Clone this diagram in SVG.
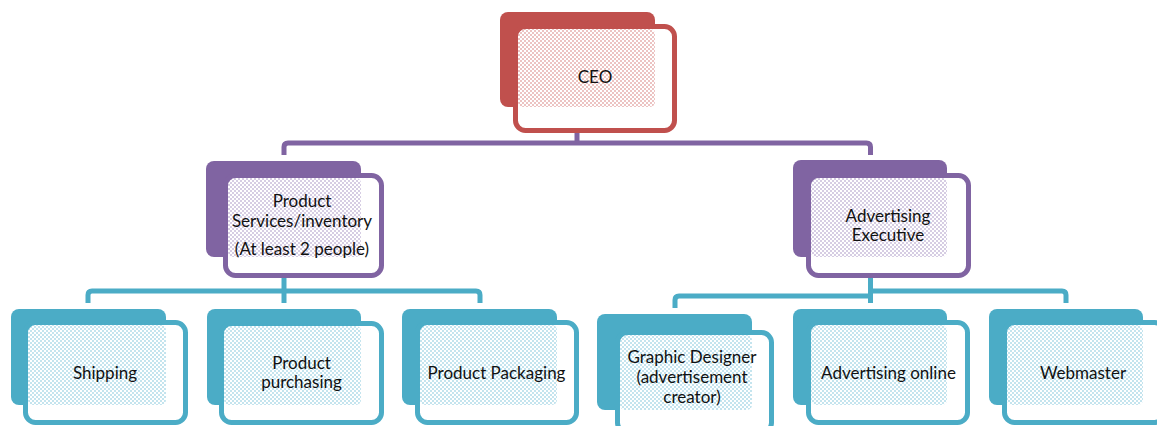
<svg xmlns="http://www.w3.org/2000/svg" width="1157" height="426" viewBox="0 0 1157 426">
  <defs>
    <!-- fine dotted fills for the overlap area of each card -->
    <pattern id="dotRed" width="4" height="4" patternUnits="userSpaceOnUse">
      <rect width="4" height="4" fill="#ffffff"/>
      <rect x="0" y="0" width="2" height="2" fill="#ecc3c2"/>
      <rect x="2" y="2" width="2" height="2" fill="#ecc3c2"/>
    </pattern>
    <pattern id="dotPurple" width="4" height="4" patternUnits="userSpaceOnUse">
      <rect width="4" height="4" fill="#ffffff"/>
      <rect x="0" y="0" width="2" height="2" fill="#d6cde3"/>
      <rect x="2" y="2" width="2" height="2" fill="#d6cde3"/>
    </pattern>
    <pattern id="dotBlue" width="4" height="4" patternUnits="userSpaceOnUse">
      <rect width="4" height="4" fill="#ffffff"/>
      <rect x="0" y="0" width="2" height="2" fill="#c4e4ee"/>
      <rect x="2" y="2" width="2" height="2" fill="#c4e4ee"/>
    </pattern>
  </defs>
  <style>
    .back { stroke: none; }
    .front { fill: none; stroke-width: 5; }
    .red .back { fill: #c0504d; }
    .red .front { stroke: #c0504d; }
    .red .dots { fill: url(#dotRed); }
    .purple .back { fill: #8064a2; }
    .purple .front { stroke: #8064a2; }
    .purple .dots { fill: url(#dotPurple); }
    .blue .back { fill: #4bacc6; }
    .blue .front { stroke: #4bacc6; }
    .blue .dots { fill: url(#dotBlue); }
    .plate { fill: #ffffff; }
    .link { fill: none; stroke-width: 5; stroke-linejoin: round; }
    .link.purple { stroke: #8064a2; }
    .link.blue { stroke: #4bacc6; }
    text { font-family: Lato, "Liberation Sans", sans-serif; font-size: 17px; fill: #111111; text-anchor: middle; }
  </style>

  <rect width="1157" height="426" fill="#ffffff"/>

  <!-- connectors -->
  <g id="connectors">
    <path class="link purple" d="M577,133 V143"/>
    <path class="link purple" d="M284,155 V147 Q284,143 288,143 H866.5 Q870.5,143 870.5,147 V155"/>
    <path class="link blue" d="M284,278 V303"/>
    <path class="link blue" d="M88,303 V295 Q88,291 92,291 H476 Q480,291 480,295 V303"/>
    <path class="link blue" d="M870.5,278 V303"/>
    <path class="link blue" d="M675,308 V300 Q675,296 679,296 H870.5"/>
    <path class="link blue" d="M870.5,291 H1062 Q1066,291 1066,295 V303"/>
  </g>

  <!-- CEO -->
  <g id="ceo" class="red">
    <rect class="back" x="500" y="12" width="155" height="95" rx="8"/>
    <rect class="plate" x="515.5" y="26.5" width="159" height="104" rx="10"/>
    <rect class="dots" x="518" y="29" width="137" height="78" rx="5"/>
    <rect class="front" x="515.5" y="26.5" width="159" height="104" rx="10"/>
    <text x="595" y="83">CEO</text>
  </g>

  <!-- Product Services / inventory -->
  <g id="product-services" class="purple">
    <rect class="back" x="206" y="161" width="155" height="96" rx="8"/>
    <rect class="plate" x="225.5" y="175.5" width="156" height="100" rx="10"/>
    <rect class="dots" x="228" y="178" width="133" height="79" rx="5"/>
    <rect class="front" x="225.5" y="175.5" width="156" height="100" rx="10"/>
    <text x="302" y="207">Product</text>
    <text x="302" y="226.5">Services/inventory</text>
    <text x="302" y="255">(At least 2 people)</text>
  </g>

  <!-- Advertising Executive -->
  <g id="advertising-executive" class="purple">
    <rect class="back" x="793" y="160" width="154" height="97" rx="8"/>
    <rect class="plate" x="808.5" y="175.5" width="160" height="100" rx="10"/>
    <rect class="dots" x="811" y="178" width="136" height="79" rx="5"/>
    <rect class="front" x="808.5" y="175.5" width="160" height="100" rx="10"/>
    <text x="888" y="221.5">Advertising</text>
    <text x="888" y="240.5">Executive</text>
  </g>

  <!-- Shipping -->
  <g id="shipping" class="blue">
    <rect class="back" x="11" y="309" width="155" height="96" rx="8"/>
    <rect class="plate" x="25.5" y="322.5" width="160" height="100" rx="10"/>
    <rect class="dots" x="28" y="325" width="138" height="80" rx="5"/>
    <rect class="front" x="25.5" y="322.5" width="160" height="100" rx="10"/>
    <text x="105" y="379.3">Shipping</text>
  </g>

  <!-- Product purchasing -->
  <g id="product-purchasing" class="blue">
    <rect class="back" x="207" y="309" width="154" height="96" rx="8"/>
    <rect class="plate" x="221.5" y="323.5" width="160" height="99" rx="10"/>
    <rect class="dots" x="224" y="326" width="137" height="79" rx="5"/>
    <rect class="front" x="221.5" y="323.5" width="160" height="99" rx="10"/>
    <text x="301.5" y="369.3">Product</text>
    <text x="301.5" y="388.3">purchasing</text>
  </g>

  <!-- Product Packaging -->
  <g id="product-packaging" class="blue">
    <rect class="back" x="402" y="309" width="155" height="96" rx="8"/>
    <rect class="plate" x="417.5" y="322.5" width="159" height="100" rx="10"/>
    <rect class="dots" x="420" y="325" width="137" height="80" rx="5"/>
    <rect class="front" x="417.5" y="322.5" width="159" height="100" rx="10"/>
    <text x="496.5" y="379.3">Product Packaging</text>
  </g>

  <!-- Graphic Designer -->
  <g id="graphic-designer" class="blue">
    <rect class="back" x="597" y="314" width="155" height="96" rx="8"/>
    <rect class="plate" x="617.5" y="332.5" width="154" height="100" rx="10"/>
    <rect class="dots" x="620" y="335" width="132" height="75" rx="5"/>
    <rect class="front" x="617.5" y="332.5" width="154" height="100" rx="10"/>
    <text x="692" y="363.3">Graphic Designer</text>
    <text x="692" y="382.7">(advertisement</text>
    <text x="692" y="402.5">creator)</text>
  </g>

  <!-- Advertising online -->
  <g id="advertising-online" class="blue">
    <rect class="back" x="793" y="309" width="154" height="96" rx="8"/>
    <rect class="plate" x="808.5" y="322.5" width="159" height="100" rx="10"/>
    <rect class="dots" x="811" y="325" width="136" height="80" rx="5"/>
    <rect class="front" x="808.5" y="322.5" width="159" height="100" rx="10"/>
    <text x="888.5" y="379.3">Advertising online</text>
  </g>

  <!-- Webmaster -->
  <g id="webmaster" class="blue">
    <rect class="back" x="989" y="309" width="154" height="96" rx="8"/>
    <rect class="plate" x="1004.5" y="322.5" width="160" height="100" rx="10"/>
    <rect class="dots" x="1007" y="325" width="136" height="80" rx="5"/>
    <rect class="front" x="1004.5" y="322.5" width="160" height="100" rx="10"/>
    <text x="1083" y="379.3">Webmaster</text>
  </g>
</svg>
